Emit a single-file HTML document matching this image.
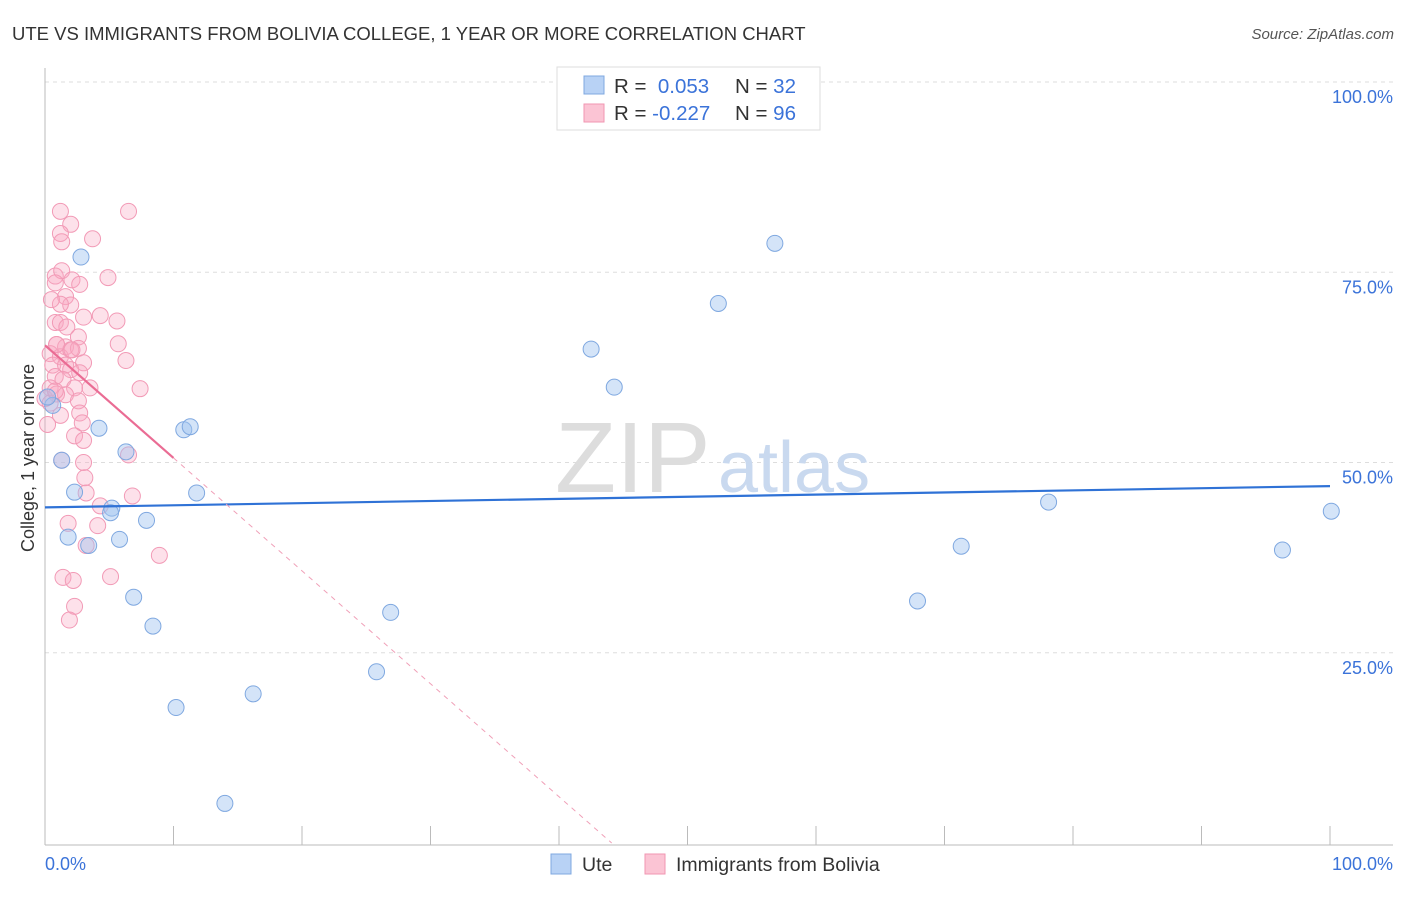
<!DOCTYPE html>
<html><head><meta charset="utf-8"><style>
body{margin:0;background:#fff;font-family:"Liberation Sans",sans-serif;}
svg text{font-family:"Liberation Sans",sans-serif;}
</style></head><body>
<svg id="chart" width="1406" height="892" viewBox="0 0 1406 892" xmlns="http://www.w3.org/2000/svg">
<text x="12" y="40" font-size="18.5" fill="#333">UTE VS IMMIGRANTS FROM BOLIVIA COLLEGE, 1 YEAR OR MORE CORRELATION CHART</text>
<text x="1394" y="39" font-size="15" fill="#555" text-anchor="end" font-style="italic">Source: ZipAtlas.com</text>
<g id="grid"></g>
<text x="555" y="492" font-size="100" fill="#ddd" font-family="Liberation Serif">ZIP</text>
<text x="718" y="492" font-size="72" fill="#c9d9ef">atlas</text>
<line x1="45" y1="68" x2="45" y2="845" stroke="#bbb"/>
<line x1="45" y1="845" x2="1393" y2="845" stroke="#bbb"/>
<g id="xticks"></g>
<g id="ylabels"></g>
<text x="45" y="870" font-size="18" fill="#3b73d9">0.0%</text>
<text x="1393" y="870" font-size="18" fill="#3b73d9" text-anchor="end">100.0%</text>
<text transform="translate(34,458) rotate(-90)" font-size="18" fill="#333" text-anchor="middle">College, 1 year or more</text>
<g id="pts"></g>
<g id="lines"></g>
<g>
<rect x="557" y="67" width="263" height="63" fill="#fff" stroke="#ddd"/>
<rect x="584" y="76" width="20" height="18" fill="#b8d2f5" stroke="#7fa8e0"/>
<rect x="584" y="104" width="20" height="18" fill="#fbc4d4" stroke="#f096b2"/>
<text x="614" y="93" font-size="20.5" fill="#333">R = <tspan fill="#3b73d9">&#160;0.053</tspan><tspan x="735">N = </tspan><tspan fill="#3b73d9">32</tspan></text>
<text x="614" y="120" font-size="20.5" fill="#333">R = <tspan fill="#3b73d9">-0.227</tspan><tspan x="735">N = </tspan><tspan fill="#3b73d9">96</tspan></text>
</g>
<g>
<rect x="551" y="854" width="20" height="20" fill="#b8d2f5" stroke="#7fa8e0"/>
<text x="582" y="871" font-size="19.5" fill="#333">Ute</text>
<rect x="645" y="854" width="20" height="20" fill="#fbc4d4" stroke="#f096b2"/>
<text x="676" y="871" font-size="19.5" fill="#333">Immigrants from Bolivia</text>
</g>
</svg>
<script>
const yTicks=[25,50,75,100];
const xTicks=[0,10,20,30,40,50,60,70,80,90,100];
const uteX=[2.8,4.2,0.6,1.3,2.3,1.8,3.4,5.2,5.8,5.1,6.3,7.9,6.9,8.4,10.2,10.8,11.3,11.8,14.0,16.2,25.8,26.9,42.5,44.3,52.4,56.8,67.9,71.3,78.1,96.3,100.1,0.2];
const uteY=[77,54.5,57.5,50.3,46.1,40.2,39.1,44,39.9,43.4,51.4,42.4,32.3,28.5,17.8,54.3,54.7,46,5.2,19.6,22.5,30.3,64.9,59.9,70.9,78.8,31.8,39,44.8,38.5,43.6,58.6];
const bolX=[1.2,6.5,2.0,1.2,1.3,3.7,0.8,1.3,2.1,4.9,2.7,0.8,1.6,2.0,1.2,3.0,4.3,5.6,0.8,1.2,2.6,0.9,1.6,5.7,0.4,1.2,2.0,2.6,0.6,1.6,3.0,6.3,2.0,2.7,0.8,1.4,0.4,2.3,3.5,7.4,0.9,1.6,2.6,0.0,0.4,2.7,2.9,0.2,2.3,3.0,1.3,6.5,3.0,3.1,3.2,6.8,4.3,1.8,4.1,3.2,8.9,1.4,2.2,5.1,2.3,1.9,0.8,1.2,0.5,1.7,0.9,2.1];
const bolY=[83,83,81.3,80.1,79,79.4,74.5,75.2,74,74.3,73.4,73.6,71.8,70.7,70.8,69.1,69.3,68.6,68.4,68.4,66.5,65.5,65.2,65.6,64.3,63.9,64.8,65,62.8,62.8,63.1,63.4,62.2,61.8,61.3,60.9,59.8,59.8,59.8,59.7,59,58.9,58.1,58.4,57.8,56.5,55.2,55,53.5,52.9,50.3,51,50,48,46,45.6,44.3,42,41.7,39.1,37.8,34.9,34.5,35,31.1,29.3,59.4,56.2,71.4,67.8,65.5,64.8];
const X=v=>45+v*12.85, Y=v=>843-v*7.61;
const NS='http://www.w3.org/2000/svg';
function mk(t,a,p){const e=document.createElementNS(NS,t);for(const k in a)e.setAttribute(k,a[k]);document.getElementById(p).appendChild(e);return e;}
yTicks.forEach(t=>{
 const l=mk('line',{x1:45,x2:1393,y1:Y(t),y2:Y(t),stroke:'#ddd','stroke-dasharray':'4,4'},'grid');
 
 
 const tx=mk('text',{x:1393,y:Y(t)+21,'font-size':18,fill:'#3b73d9','text-anchor':'end'},'ylabels');
 tx.textContent=t.toFixed(1)+'%';
 
 
});
xTicks.forEach(t=>{
 const l=mk('line',{x1:X(t),x2:X(t),y1:826,y2:845,stroke:'#bbb'},'xticks');
 
 
});
bolX.forEach((v,i)=>{
 const c=mk('circle',{cx:X(v),cy:Y(bolY[i]),r:8,fill:'rgba(248,170,195,0.35)',stroke:'#f29ab6','stroke-width':1},'pts');
 
 
});
uteX.forEach((v,i)=>{
 const c=mk('circle',{cx:X(v),cy:Y(uteY[i]),r:8,fill:'rgba(160,195,240,0.45)',stroke:'#7fa8e0','stroke-width':1},'pts');
 
 
});
let l;
l=mk('line',{x1:X(0),y1:Y(44.1),x2:X(100),y2:Y(46.9),stroke:'#2f72d6','stroke-width':2.2},'lines');


l=mk('line',{x1:X(0),y1:Y(65.4),x2:X(10),y2:Y(50.6),stroke:'#ea6c94','stroke-width':2.2},'lines');


l=mk('line',{x1:X(10),y1:Y(50.6),x2:X(44.1),y2:Y(0),stroke:'#f0a0b8','stroke-width':1,'stroke-dasharray':'5,5'},'lines');


</script>
</body></html>
